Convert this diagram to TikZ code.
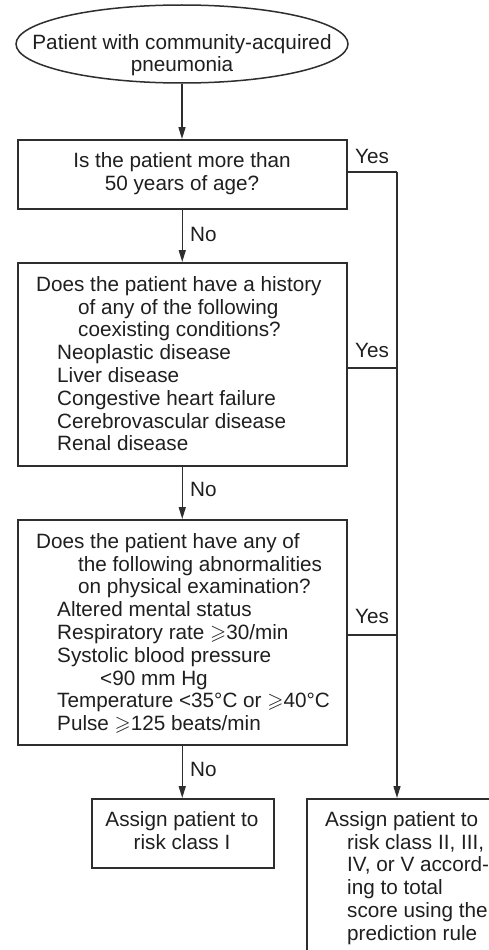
\documentclass[tikz,border=0pt]{standalone}
\usepackage{amssymb}
\usepackage{fontspec}
\setmainfont{Liberation Sans}
\usetikzlibrary{arrows.meta,shapes.geometric}
\newcommand{\gs}{$\geqslant$}
\begin{document}
\begin{tikzpicture}[x=1pt,y=-1pt,
  txt/.style={font=\fontsize{20.7}{22.8}\selectfont, text=black!88, inner sep=0pt},
  ln/.style={line width=1.5pt, draw=black!82},
  box/.style={ln, rectangle, inner sep=0pt, anchor=north west},
  arr/.style={ln, -{Triangle[length=12pt,width=7pt]}}
]
\useasboundingbox (0,0) rectangle (489,950);
\clip (0,0) rectangle (489,950);
\fill[white] (0,0) rectangle (489,950);

% shapes
\node[ln, ellipse, inner sep=0pt, minimum width=332pt, minimum height=78pt] (start) at (182,44) {};
\node[box, minimum width=329pt, minimum height=69pt] (b1) at (17,139) {};
\node[box, minimum width=329pt, minimum height=203pt] (b2) at (17,262) {};
\node[box, minimum width=329pt, minimum height=225pt] (b3) at (17,519) {};
\node[box, minimum width=182pt, minimum height=69pt] (b4) at (91,798) {};
\node[box, minimum width=220pt, minimum height=220pt] (b5) at (306,798) {};

% texts
\node[txt, align=center, anchor=north] (t0) at (182,34) {Patient with community-acquired\\pneumonia};
\node[txt, align=center, anchor=north] (t1) at (182,152) {Is the patient more than\\50 years of age?};
\node[txt, align=left, anchor=north west] (t2) at (36,276) {Does the patient have a history\\
\hspace*{42pt}of any of the following\\
\hspace*{42pt}coexisting conditions?\\
\hspace*{21pt}Neoplastic disease\\
\hspace*{21pt}Liver disease\\
\hspace*{21pt}Congestive heart failure\\
\hspace*{21pt}Cerebrovascular disease\\
\hspace*{21pt}Renal disease};
\node[txt, align=left, anchor=north west] (t3) at (36,533) {Does the patient have any of\\
\hspace*{42pt}the following abnormalities\\
\hspace*{42pt}on physical examination?\\
\hspace*{21pt}Altered mental status\\
\hspace*{21pt}Respiratory rate \gs30/min\\
\hspace*{21pt}Systolic blood pressure\\
\hspace*{64pt}<90 mm Hg\\
\hspace*{21pt}Temperature <35°C or \gs40°C\\
\hspace*{21pt}Pulse \gs125 beats/min};
\node[txt, align=center, anchor=north] (t4) at (182,811) {Assign patient to\\risk class I};
\node[txt, align=left, anchor=north west] (t5) at (325,811) {Assign patient to\\
\hspace*{22pt}risk class II, III,\\
\hspace*{22pt}IV, or V accord-\\
\hspace*{22pt}ing to total\\
\hspace*{22pt}score using the\\
\hspace*{22pt}prediction rule};

% junctions
\coordinate (j1) at (397,172);
\coordinate (j2) at (397,368);
\coordinate (j3) at (397,635);

% connectors
\draw[arr] (start.south) -- (start.south |- b1.north);
\draw[arr] (b1.south) -- (b2.north);
\draw[arr] (b2.south) -- (b3.north);
\draw[arr] (b3.south) -- (b3.south |- b4.north);
\draw[ln] (b1.east |- j1) -- (j1);
\draw[ln] (b2.east |- j2) -- (j2);
\draw[ln] (b3.east |- j3) -- (j3);
\draw[arr] (j1) -- (j1 |- b5.north);

% labels
\node[txt, anchor=base west] (y1) at (355,163) {Yes};
\node[txt, anchor=base west] (y2) at (355,357) {Yes};
\node[txt, anchor=base west] (y3) at (355,623) {Yes};
\node[txt, anchor=base west] (n1) at (190,241.5) {No};
\node[txt, anchor=base west] (n2) at (190,496) {No};
\node[txt, anchor=base west] (n3) at (190,776.5) {No};
\end{tikzpicture}
\end{document}
